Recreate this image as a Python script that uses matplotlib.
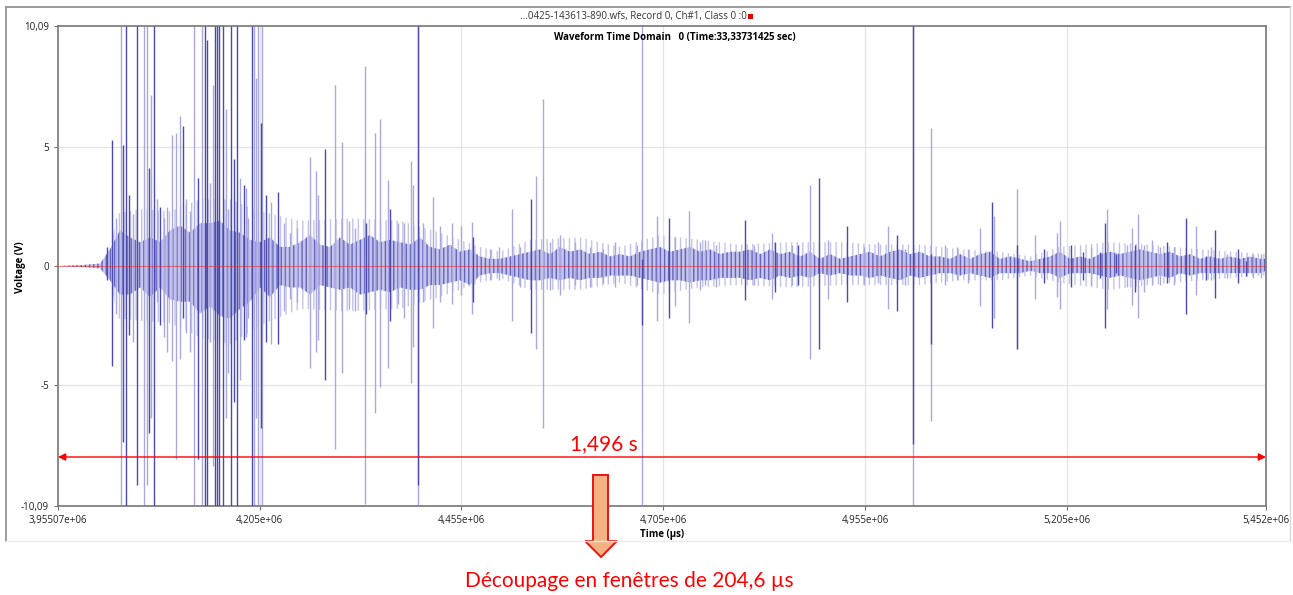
import matplotlib
matplotlib.use("Agg")
import matplotlib.pyplot as plt
from matplotlib.patches import Polygon, Rectangle
from matplotlib.lines import Line2D

# axis ranges and ticks
t_start = 3.95507e6
t_end = 5.452e6
v_max = 10.09
xticks = [3.95507e6, 4.205e6, 4.455e6, 4.705e6, 4.955e6, 5.205e6, 5.452e6]
xtick_labels = ["3,95507e+06", "4,205e+06", "4,455e+06", "4,705e+06",
                "4,955e+06", "5,205e+06", "5,452e+06"]
yticks = [-10.09, -5, 0, 5, 10.09]
ytick_labels = ["-10,09", "-5", "0", "5", "10,09"]

# sparse outer noise band (time in us, volts)
outer_t = [3.9551e6, 3.9885e6, 4.0133e6, 4.0195e6, 4.0294e6, 4.0567e6, 4.0939e6,
           4.1310e6, 4.1682e6, 4.2054e6, 4.2550e6, 4.3169e6, 4.3789e6, 4.4284e6,
           4.4780e6, 4.5028e6, 4.5400e6, 4.6019e6, 4.6515e6, 4.7011e6, 4.7506e6,
           4.8002e6, 4.8622e6, 4.9241e6, 4.9737e6, 5.0233e6, 5.0728e6, 5.1224e6,
           5.1596e6, 5.1967e6, 5.2587e6, 5.3083e6, 5.3702e6, 5.452e6]
outer_hi = [0.0, 0.05, 0.15, 0.8, 2.2, 2.4, 2.3, 2.8, 2.8, 2.3, 1.9, 2.0, 1.9, 1.4,
            0.8, 0.6, 1.1, 1.2, 0.8, 1.3, 1.1, 0.9, 1.0, 1.0, 0.9, 0.9, 0.7, 0.6,
            0.4, 0.8, 1.0, 0.9, 0.7, 0.5]
outer_lo = [0.0, -0.05, -0.15, -0.6, -2.2, -2.3, -2.4, -3.0, -3.3, -2.5, -1.8, -1.9,
            -1.8, -1.3, -0.7, -0.5, -1.0, -1.0, -0.7, -1.2, -0.9, -0.8, -0.9, -0.8,
            -0.8, -0.8, -0.6, -0.6, -0.4, -0.7, -1.0, -0.8, -0.6, -0.4]

# dense inner noise band
core_t = [3.95507e6, 3.9885e6, 4.0071e6, 4.0195e6, 4.0319e6, 4.0443e6, 4.0567e6,
          4.0691e6, 4.0815e6, 4.0939e6, 4.1063e6, 4.1187e6, 4.1310e6, 4.1434e6,
          4.1558e6, 4.1682e6, 4.1806e6, 4.1930e6, 4.2054e6, 4.2178e6, 4.2302e6,
          4.2426e6, 4.2550e6, 4.2674e6, 4.2798e6, 4.2922e6, 4.3045e6, 4.3169e6,
          4.3293e6, 4.3417e6, 4.3541e6, 4.3665e6, 4.3789e6, 4.3913e6, 4.4037e6,
          4.4161e6, 4.4284e6, 4.4408e6, 4.4532e6, 4.4656e6, 4.4780e6, 4.4904e6,
          4.5028e6, 4.5152e6, 4.5276e6, 4.5400e6, 4.5524e6, 4.5648e6, 4.5771e6,
          4.5895e6, 4.6019e6, 4.6143e6, 4.6267e6, 4.6391e6, 4.6515e6, 4.6639e6,
          4.6763e6, 4.6887e6, 4.7011e6, 4.7135e6, 4.7258e6, 4.7382e6, 4.7506e6,
          4.7630e6, 4.7754e6, 4.7878e6, 4.8002e6, 4.8126e6, 4.8250e6, 4.8374e6,
          4.8498e6, 4.8622e6, 4.8746e6, 4.8869e6, 4.8993e6, 4.9117e6, 4.9241e6,
          4.9365e6, 4.9489e6, 4.9613e6, 4.9737e6, 4.9861e6, 4.9985e6, 5.0109e6,
          5.0233e6, 5.0357e6, 5.0480e6, 5.0604e6, 5.0728e6, 5.0852e6, 5.0976e6,
          5.1100e6, 5.1224e6, 5.1348e6, 5.1472e6, 5.1596e6, 5.1720e6, 5.1844e6,
          5.1967e6, 5.2091e6, 5.2215e6, 5.2339e6, 5.2463e6, 5.2587e6, 5.2711e6,
          5.2835e6, 5.2959e6, 5.3083e6, 5.3207e6, 5.3331e6, 5.3454e6, 5.3578e6,
          5.3702e6, 5.3826e6, 5.3950e6, 5.4074e6, 5.4198e6, 5.4322e6, 5.4446e6,
          5.452e6]
core_hi = [0.0, 0.05, 0.1, 0.7, 1.5, 1.2, 1.0, 1.2, 1.0, 1.5, 1.7, 1.4, 1.8, 1.8,
           1.9, 1.5, 1.4, 1.1, 1.0, 1.2, 0.8, 0.8, 1.0, 1.3, 0.9, 0.8, 1.2, 0.9,
           1.1, 1.3, 1.0, 1.1, 1.0, 0.9, 1.2, 0.8, 0.7, 0.9, 0.6, 0.7, 0.4, 0.3,
           0.3, 0.4, 0.5, 0.6, 0.7, 0.5, 0.8, 0.6, 0.7, 0.5, 0.6, 0.4, 0.5, 0.4,
           0.6, 0.7, 0.8, 0.6, 0.7, 0.8, 0.6, 0.7, 0.5, 0.6, 0.6, 0.7, 0.5, 0.7,
           0.5, 0.6, 0.4, 0.6, 0.3, 0.5, 0.3, 0.4, 0.5, 0.6, 0.4, 0.6, 0.7, 0.5,
           0.6, 0.4, 0.4, 0.3, 0.5, 0.3, 0.5, 0.6, 0.3, 0.4, 0.3, 0.2, 0.3, 0.4,
           0.6, 0.3, 0.4, 0.3, 0.5, 0.6, 0.5, 0.6, 0.7, 0.6, 0.5, 0.6, 0.4, 0.5,
           0.3, 0.4, 0.3, 0.4, 0.3, 0.4, 0.3, 0.3]
core_lo = [0.0, -0.05, -0.1, -0.6, -1.2, -1.2, -0.9, -1.3, -0.9, -1.4, -1.5, -1.5,
           -2.0, -1.7, -2.1, -2.2, -1.8, -1.5, -0.9, -1.3, -0.8, -0.9, -0.9, -1.2,
           -0.8, -0.9, -1.0, -0.9, -1.2, -1.1, -1.0, -1.1, -0.9, -1.0, -1.0, -0.8,
           -0.8, -0.7, -0.6, -0.8, -0.4, -0.3, -0.3, -0.4, -0.5, -0.6, -0.6, -0.5,
           -0.6, -0.5, -0.6, -0.5, -0.5, -0.4, -0.4, -0.4, -0.5, -0.6, -0.7, -0.6,
           -0.6, -0.7, -0.6, -0.6, -0.5, -0.5, -0.5, -0.6, -0.5, -0.6, -0.4, -0.5,
           -0.4, -0.5, -0.3, -0.4, -0.3, -0.4, -0.4, -0.5, -0.4, -0.5, -0.6, -0.4,
           -0.5, -0.4, -0.3, -0.3, -0.4, -0.3, -0.4, -0.5, -0.3, -0.3, -0.3, -0.2,
           -0.3, -0.3, -0.5, -0.3, -0.3, -0.3, -0.4, -0.5, -0.4, -0.5, -0.6, -0.5,
           -0.4, -0.5, -0.3, -0.4, -0.3, -0.3, -0.3, -0.3, -0.3, -0.3, -0.3, -0.2]

# dark (front) spikes: time, max, min
dark_t = [4.0158e6, 4.0220e6, 4.0360e6, 4.0393e6, 4.0431e6, 4.0533e6, 4.0678e6,
          4.0744e6, 4.0815e6, 4.1103e6, 4.1289e6, 4.1372e6, 4.1397e6, 4.1496e6,
          4.1521e6, 4.1546e6, 4.1599e6, 4.1691e6, 4.1732e6, 4.1773e6, 4.1856e6,
          4.1958e6, 4.2063e6, 4.2128e6, 4.2273e6, 4.2863e6, 4.3367e6, 4.3665e6,
          4.4016e6, 4.4693e6, 4.5412e6, 4.6784e6, 4.7122e6, 4.8064e6, 4.8436e6,
          4.8721e6, 4.8985e6, 4.9332e6, 4.9951e6, 5.0150e6, 5.0365e6, 5.1129e6,
          5.1438e6, 5.1769e6, 5.2104e6, 5.2253e6, 5.2463e6, 5.2525e6, 5.2661e6,
          5.2897e6, 5.3293e6, 5.3529e6, 5.3777e6, 5.3888e6, 5.4173e6, 5.4272e6]
dark_hi = [0.8, 5.3, 5.1, 10.09, 3.0, 10.09, 4.1,
           10.09, 2.5, 5.9, 3.7, 10.09, 9.5, 10.09,
           10.09, 10.09, 10.09, 10.09, 4.5, 10.09, 3.4,
           10.09, 6.0, 3.0, 3.1, 4.9, 1.8, 2.4,
           10.09, 1.2, 2.8, 0.3, 2.0, 1.95, 1.0,
           0.9, 3.7, 1.7, 1.3, 10.09, 0.5, 2.7,
           0.9, 0.7, 0.9, 0.6, 0.6, 1.8, 0.5,
           0.9, 1.0, 2.0, 0.4, 1.5, 0.7, 0.2]
dark_lo = [-0.6, -4.2, -7.4, -10.09, -2.9, -9.2, -7.0,
           -10.09, -2.5, -2.2, -8.1, -10.09, -10.09, -10.09,
           -10.09, -10.09, -10.09, -10.09, -5.7, -10.09, -3.1,
           -10.09, -6.8, -3.2, -3.3, -4.8, -2.0, -2.3,
           -9.2, -1.5, -2.8, -2.5, -2.2, -1.45, -1.1,
           -0.8, -3.5, -1.5, -1.9, -7.5, -3.3, -2.6,
           -3.5, -0.7, -0.9, -0.6, -0.5, -2.6, -0.3,
           -1.1, -0.7, -2.0, -0.6, -1.35, -0.7, -0.4]

# light (back) spikes: time, max, min
light_t = [4.0269e6, 4.0328e6, 4.0480e6, 4.0616e6, 4.0650e6, 4.0703e6, 4.0778e6,
           4.0864e6, 4.0905e6, 4.0960e6, 4.1013e6, 4.1063e6, 4.1137e6, 4.1186e6,
           4.1236e6, 4.1331e6, 4.1434e6, 4.1468e6, 4.1633e6, 4.1657e6, 4.1806e6,
           4.1880e6, 4.1909e6, 4.1980e6, 4.2004e6, 4.2029e6, 4.2075e6, 4.2186e6,
           4.2351e6, 4.2426e6, 4.2512e6, 4.2673e6, 4.2744e6, 4.2776e6, 4.2983e6,
           4.3074e6, 4.3157e6, 4.3231e6, 4.3355e6, 4.3479e6, 4.3541e6, 4.3644e6,
           4.3764e6, 4.3838e6, 4.3925e6, 4.3954e6, 4.4016e6, 4.4074e6, 4.4201e6,
           4.4284e6, 4.4433e6, 4.4545e6, 4.4677e6, 4.4904e6, 4.5016e6, 4.5173e6,
           4.5276e6, 4.5474e6, 4.5557e6, 4.5648e6, 4.5771e6, 4.5957e6, 4.6143e6,
           4.6304e6, 4.6453e6, 4.6722e6, 4.6784e6, 4.6974e6, 4.7197e6, 4.7370e6,
           4.7506e6, 4.7568e6, 4.7705e6, 4.8176e6, 4.8395e6, 4.8646e6, 4.8869e6,
           4.9093e6, 4.9539e6, 4.9712e6, 4.9840e6, 5.0047e6, 5.0150e6, 5.0365e6,
           5.0542e6, 5.0691e6, 5.0827e6, 5.0976e6, 5.1150e6, 5.1438e6, 5.1658e6,
           5.1930e6, 5.1967e6, 5.2352e6, 5.2546e6, 5.2798e6, 5.2863e6, 5.2930e6,
           5.3008e6, 5.3108e6, 5.3207e6, 5.3380e6, 5.3653e6, 5.3839e6, 5.4037e6,
           5.4359e6, 5.4458e6]
light_hi = [2.0, 10.09, 2.2, 10.09, 10.09, 7.2, 2.8,
            2.0, 2.5, 5.5, 5.6, 6.3, 2.8, 2.3,
            10.09, 10.09, 3.5, 7.6, 6.6, 2.4, 3.7,
            3.3, 2.0, 10.09, 7.9, 10.09, 10.09, 2.7,
            1.8, 1.4, 1.6, 4.6, 4.0, 3.0, 7.6,
            5.2, 1.9, 1.6, 8.4, 5.6, 6.2, 3.6,
            1.8, 1.8, 4.4, 3.4, 10.09, 1.8, 2.9,
            1.7, 1.8, 1.7, 1.85, 0.7, 0.8, 2.4,
            0.8, 3.8, 7.0, 1.0, 1.3, 1.0, 0.8,
            0.7, 1.0, 0.9, 10.09, 2.1, 1.2, 2.3,
            1.0, 1.1, 0.9, 0.9, 1.4, 0.9, 3.4,
            1.1, 0.8, 1.0, 1.7, 0.7, 10.09, 5.8,
            0.9, 0.8, 0.7, 1.6, 2.1, 3.25, 1.3,
            1.4, 1.9, 0.8, 2.4, 0.9, 1.6, 2.2,
            0.9, 1.1, 0.8, 0.8, 1.7, 0.8, 0.5,
            0.5, 0.5]
light_lo = [-2.0, -10.09, -3.2, -10.09, -9.2, -6.4, -1.5,
            -3.0, -3.6, -4.0, -8.1, -3.9, -2.8, -3.6,
            -10.09, -10.09, -3.2, -8.4, -6.4, -4.5, -4.8,
            -3.0, -2.2, -10.09, -6.4, -10.09, -10.09, -3.3,
            -1.9, -1.4, -1.5, -4.3, -3.6, -3.1, -7.7,
            -4.5, -1.8, -1.9, -10.0, -6.2, -5.1, -4.3,
            -1.6, -2.2, -4.9, -3.4, -10.09, -1.5, -2.6,
            -1.5, -1.6, -1.2, -2.0, -0.6, -0.6, -2.3,
            -0.9, -3.5, -6.8, -1.0, -1.2, -0.8, -0.9,
            -0.7, -0.9, -0.8, -10.09, -2.3, -1.7, -2.4,
            -1.0, -0.8, -0.9, -0.8, -1.4, -0.8, -3.9,
            -1.4, -0.8, -0.7, -1.8, -0.8, -10.09, -6.5,
            -0.8, -0.6, -0.7, -1.7, -2.2, -3.5, -1.4,
            -1.3, -1.8, -0.8, -1.8, -0.9, -1.65, -2.2,
            -1.1, -0.8, -0.8, -0.8, -1.2, -0.6, -0.5,
            -0.5, -0.5]

# annotation values
span_v = -8.03
span_label = "1,496 s"
span_label_t = 4.6317e6
window_label = "Découpage en fenêtres de 204,6 µs"

W, H = 1293, 595
fig = plt.figure(figsize=(W / 100, H / 100), dpi=100)
fig.patch.set_facecolor("white")

def fx(px):
    return px / W

def fy(py):
    return 1 - py / H

# window frame
fig.add_artist(Line2D([fx(6), fx(1290)], [fy(7), fy(7)], color="#8a8a8a", lw=1.2))
fig.add_artist(Line2D([fx(6), fx(6)], [fy(7), fy(541)], color="#8a8a8a", lw=1.2))
fig.add_artist(Line2D([fx(1290), fx(1290)], [fy(7), fy(541)], color="#d8d8d8", lw=1.0))
fig.add_artist(Line2D([fx(6), fx(1290)], [fy(541), fy(541)], color="#ececec", lw=1.0))

ax = fig.add_axes([fx(58), fy(506), fx(1266) - fx(58), fy(26) - fy(506)])
ax.set_xlim(t_start, t_end)
ax.set_ylim(-v_max, v_max)

for x in xticks[1:-1]:
    ax.axvline(x, color="#e4e4e4", lw=0.9, zorder=0)
for y in (-5, 5):
    ax.axhline(y, color="#e4e4e4", lw=0.9, zorder=0)

ax.fill_between(outer_t, outer_lo, outer_hi, facecolor="none", edgecolor="#c3c3ea",
                hatch="|||", linewidth=0, zorder=1)
ax.fill_between(core_t, core_lo, core_hi, facecolor="#c4c4ec", edgecolor="#6464bd",
                hatch="||||", linewidth=0, zorder=1.5)
ax.vlines(light_t, light_lo, light_hi, color="#a9a9e0", lw=1.0, zorder=2)
ax.vlines(dark_t, dark_lo, dark_hi, color="#4a4ab0", lw=1.0, zorder=3)
ax.axhline(0, color="#e03030", lw=0.6, alpha=0.7, zorder=4)

ax.annotate("", xy=(t_end, span_v), xytext=(t_start, span_v),
            arrowprops=dict(arrowstyle="<|-|>", color="red", lw=1.0,
                            mutation_scale=11, shrinkA=0, shrinkB=0), zorder=6)
ax.text(span_label_t, span_v + 0.12, span_label, color="red", fontsize=15,
        family="Lato", ha="center", va="bottom", zorder=6)

ax.set_xticks(xticks)
ax.set_xticklabels(xtick_labels)
ax.set_yticks(yticks)
ax.set_yticklabels(ytick_labels)
ax.tick_params(labelsize=7, length=3, width=0.8, color="#707070", labelcolor="#222222")
for lab in ax.get_xticklabels() + ax.get_yticklabels():
    lab.set_family("Open Sans")
for s in ax.spines.values():
    s.set_color("#808080")
    s.set_linewidth(1.3)

ax.set_xlabel("Time (µs)", fontsize=7, fontweight="bold", family="Open Sans", labelpad=2)
fig.text(fx(21), fy(267), "Voltage (V)", rotation=90, fontsize=7, fontweight="bold",
         family="Open Sans", ha="center", va="center")

ax.text(0.411, 0.988, "Waveform Time Domain   0 (Time:33,33731425 sec)",
        transform=ax.transAxes, fontsize=7, fontweight="bold", family="Open Sans",
        ha="left", va="top", zorder=7)

# title bar
fig.text(fx(747), fy(17), "...0425-143613-890.wfs, Record 0, Ch#1, Class 0 :0",
         fontsize=7, family="Open Sans", color="#333333", ha="right", va="center")
fig.add_artist(Rectangle((fx(748), fy(19)), fx(5), 5 / H, facecolor="#e00000",
                         edgecolor="none"))

# down arrow
arrow_px = [(593, 475), (608, 475), (608, 541), (617, 541), (601, 557),
            (585, 541), (593, 541)]
fig.add_artist(Polygon([(fx(x), fy(y)) for x, y in arrow_px], closed=True,
                       facecolor="#f4b183", edgecolor="#ee1111", lw=1.4))
fig.text(fx(629), fy(587), window_label, color="red", fontsize=15, family="Lato",
         ha="center", va="baseline")

fig.savefig("out.png", dpi=100)
